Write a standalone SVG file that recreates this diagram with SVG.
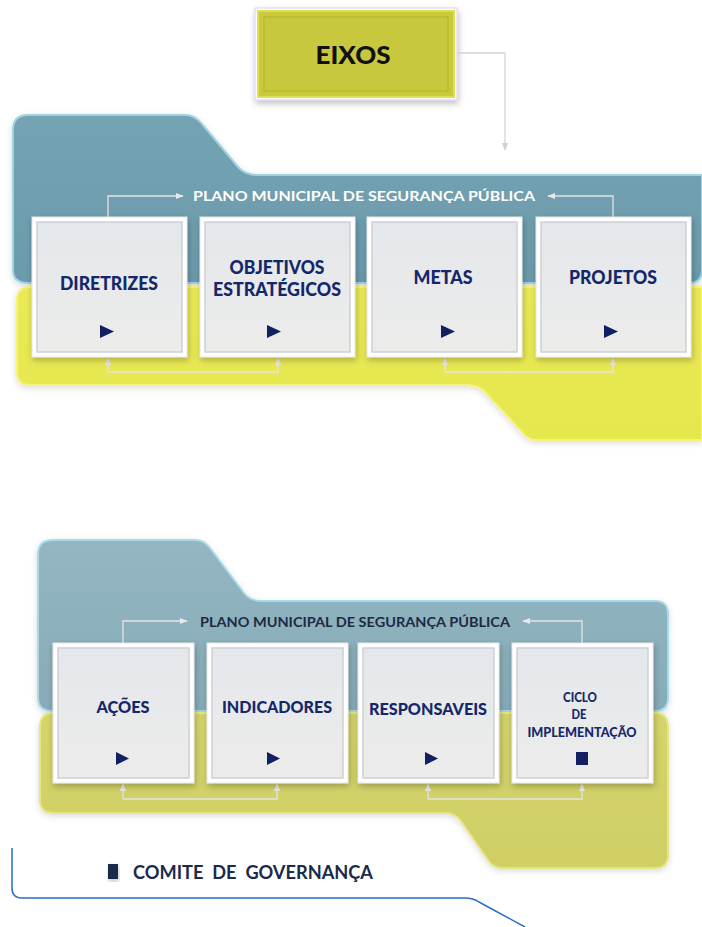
<svg xmlns="http://www.w3.org/2000/svg" width="702" height="927" viewBox="0 0 702 927">
<defs>
<style>
.lbl{font-family:Lato,"Liberation Sans",Arial,sans-serif;font-weight:900;fill:#14276a;text-anchor:middle}
.ttl{font-family:Lato,"Liberation Sans",Arial,sans-serif;font-weight:bold;font-size:14px}
.con{fill:none;stroke:#e4e4e4;stroke-width:1.3}
.con2{fill:none;stroke:#d4d4d4;stroke-width:1.3}
.outer{fill:#ffffff;stroke:#e6e6e6;stroke-width:1}
.inner{fill:url(#gBox);stroke:#cfd0d2;stroke-width:1.5}
.mk{fill:#102060}
</style>
<linearGradient id="gBox" x1="0" y1="0" x2="0" y2="1">
<stop offset="0" stop-color="#e4e7ec"/><stop offset="1" stop-color="#ececea"/>
</linearGradient>
<linearGradient id="gBlue1" x1="0" y1="0" x2="0" y2="1">
<stop offset="0" stop-color="#74a3b3"/><stop offset="1" stop-color="#6b9aab"/>
</linearGradient>
<linearGradient id="gYel1" x1="0" y1="0" x2="0" y2="1">
<stop offset="0" stop-color="#eaea56"/><stop offset="1" stop-color="#e6e64e"/>
</linearGradient>
<linearGradient id="gBlue2" x1="0" y1="0" x2="0" y2="1">
<stop offset="0" stop-color="#93b6c2"/><stop offset="1" stop-color="#87abb8"/>
</linearGradient>
<linearGradient id="gYel2" x1="0" y1="0" x2="0" y2="1">
<stop offset="0" stop-color="#d4d46a"/><stop offset="1" stop-color="#cfcf66"/>
</linearGradient>
<filter id="sh" x="-10%" y="-10%" width="130%" height="130%">
<feDropShadow dx="1" dy="3" stdDeviation="3" flood-color="#000" flood-opacity="0.25"/>
</filter>
<filter id="sh2" x="-10%" y="-10%" width="130%" height="130%">
<feDropShadow dx="0" dy="2" stdDeviation="3" flood-color="#000" flood-opacity="0.15"/>
</filter>
<marker id="ar" viewBox="0 0 10 10" refX="9" refY="5" markerWidth="6" markerHeight="6" orient="auto">
<path d="M0 1 L10 5 L0 9 Z" fill="#e8e8e8"/>
</marker>
<marker id="ar2" viewBox="0 0 10 10" refX="9" refY="5" markerWidth="6" markerHeight="6" orient="auto">
<path d="M0 1 L10 5 L0 9 Z" fill="#d0d0d0"/>
</marker>
</defs>
<rect width="702" height="927" fill="#ffffff"/>

<g id="panel-top">
<path d="M13 130 Q13 115 28 115 L185 115 Q195 115 202 124 L238 167 Q245 175 258 175 L702 175 L702 270 Q702 283 689 283 L28 283 Q13 283 13 270 Z" fill="url(#gBlue1)" stroke="#9fd3e0" stroke-width="2" filter="url(#sh2)"/>
<path d="M17 300 Q17 287 30 287 L702 287 L702 440 L537 440 Q528 440 522 432 L486 393 Q479 385 467 385 L30 385 Q17 385 17 372 Z" fill="url(#gYel1)" stroke="#f4f47a" stroke-width="2" filter="url(#sh2)"/>
</g>

<g id="panel-bottom">
<path d="M38 555 Q38 540 53 540 L195 540 Q204 540 210 548 L244 593 Q250 601 262 601 L655 601 Q668 601 668 614 L668 698 Q668 711 655 711 L53 711 Q38 711 38 698 Z" fill="url(#gBlue2)" stroke="#a6dce8" stroke-width="2" filter="url(#sh2)"/>
<path d="M40 727 Q40 713 54 713 L655 713 Q668 713 668 727 L668 855 Q668 868 655 868 L502 868 Q493 868 488 860 L461 821 Q455 813 445 813 L54 813 Q40 813 40 800 Z" fill="url(#gYel2)" stroke="#e6e680" stroke-width="2" filter="url(#sh2)"/>
</g>

<g id="frame-line">
<path d="M12 848 L12 888 Q12 898 22 898 L465 898 Q473 898 479 902 L525 927" fill="none" stroke="#2a6fc9" stroke-width="1.5"/>
</g>

<g id="eixos">
<rect x="255" y="8" width="202" height="92" fill="#ffffff" stroke="#d8d0f0" stroke-width="1" filter="url(#sh)"/>
<rect x="258" y="11" width="196" height="86" fill="#c9c93a" stroke="#dede55" stroke-width="2"/>
<rect x="264" y="17" width="184" height="74" fill="#c8c83f" stroke="#b5b52c" stroke-width="1"/>
<text x="353" y="64" font-family="Lato,'Liberation Sans',sans-serif" font-weight="900" font-size="24" text-anchor="middle" fill="#111111" textLength="75" lengthAdjust="spacingAndGlyphs">EIXOS</text>
</g>

<g id="connectors">
<path class="con2" d="M457 53 L505 53 L505 150" marker-end="url(#ar2)"/>
<path class="con" d="M108 217 L108 196 L183 196" marker-end="url(#ar)"/>
<path class="con" d="M613 217 L613 196 L548 196" marker-end="url(#ar)"/>
<path class="con" d="M108 372 L108 358" marker-end="url(#ar)"/>
<path class="con" d="M108 372 L278 372 L278 358" marker-end="url(#ar)"/>
<path class="con" d="M445 372 L445 358" marker-end="url(#ar)"/>
<path class="con" d="M445 372 L613 372 L613 358" marker-end="url(#ar)"/>
<path class="con" d="M123 643 L123 621 L187 621" marker-end="url(#ar)"/>
<path class="con" d="M582 643 L582 621 L523 621" marker-end="url(#ar)"/>
<path class="con" d="M123 799 L123 784" marker-end="url(#ar)"/>
<path class="con" d="M123 799 L277 799 L277 784" marker-end="url(#ar)"/>
<path class="con" d="M428 799 L428 784" marker-end="url(#ar)"/>
<path class="con" d="M428 799 L582 799 L582 784" marker-end="url(#ar)"/>
</g>

<g id="title-top">
<text class="ttl" x="193" y="201" fill="#ffffff" textLength="342" lengthAdjust="spacingAndGlyphs">PLANO MUNICIPAL DE SEGURANÇA PÚBLICA</text>
</g>
<g id="title-bottom">
<text class="ttl" x="200" y="627" fill="#1e2a44" font-size="15" font-weight="900" textLength="310" lengthAdjust="spacingAndGlyphs">PLANO MUNICIPAL DE SEGURANÇA PÚBLICA</text>
</g>

<g id="diretrizes">
<rect class="outer" x="32" y="217" width="155" height="140" filter="url(#sh)"/>
<rect class="inner" x="37" y="222" width="145" height="130"/>
<text class="lbl" x="109" y="290" font-size="18" textLength="98" lengthAdjust="spacingAndGlyphs">DIRETRIZES</text>
<path class="mk" d="M100 325 L114 331.5 L100 338 Z"/>
</g>
<g id="objetivos">
<rect class="outer" x="200" y="217" width="155" height="140" filter="url(#sh)"/>
<rect class="inner" x="205" y="222" width="145" height="130"/>
<text class="lbl" x="277" y="274" font-size="18" textLength="95" lengthAdjust="spacingAndGlyphs">OBJETIVOS</text>
<text class="lbl" x="277" y="296" font-size="18" textLength="128" lengthAdjust="spacingAndGlyphs">ESTRATÉGICOS</text>
<path class="mk" d="M267 325 L281 331.5 L267 338 Z"/>
</g>
<g id="metas">
<rect class="outer" x="367" y="217" width="155" height="140" filter="url(#sh)"/>
<rect class="inner" x="372" y="222" width="145" height="130"/>
<text class="lbl" x="443" y="284" font-size="18" textLength="59" lengthAdjust="spacingAndGlyphs">METAS</text>
<path class="mk" d="M441 325 L455 331.5 L441 338 Z"/>
</g>
<g id="projetos">
<rect class="outer" x="536" y="217" width="155" height="140" filter="url(#sh)"/>
<rect class="inner" x="541" y="222" width="145" height="130"/>
<text class="lbl" x="613" y="284" font-size="18" textLength="88" lengthAdjust="spacingAndGlyphs">PROJETOS</text>
<path class="mk" d="M604 325 L618 331.5 L604 338 Z"/>
</g>

<g id="acoes">
<rect class="outer" x="53" y="643" width="141" height="140" filter="url(#sh)"/>
<rect class="inner" x="58" y="648" width="131" height="130"/>
<text class="lbl" x="123" y="713" font-size="17" textLength="53" lengthAdjust="spacingAndGlyphs">AÇÕES</text>
<path class="mk" d="M116 752 L129 758.5 L116 765 Z"/>
</g>
<g id="indicadores">
<rect class="outer" x="207" y="643" width="141" height="140" filter="url(#sh)"/>
<rect class="inner" x="212" y="648" width="131" height="130"/>
<text class="lbl" x="277" y="713" font-size="17" textLength="110" lengthAdjust="spacingAndGlyphs">INDICADORES</text>
<path class="mk" d="M267 752 L280 758.5 L267 765 Z"/>
</g>
<g id="responsaveis">
<rect class="outer" x="358" y="643" width="141" height="140" filter="url(#sh)"/>
<rect class="inner" x="363" y="648" width="131" height="130"/>
<text class="lbl" x="428" y="715" font-size="17" textLength="118" lengthAdjust="spacingAndGlyphs">RESPONSAVEIS</text>
<path class="mk" d="M425 752 L438 758.5 L425 765 Z"/>
</g>
<g id="ciclo">
<rect class="outer" x="512" y="643" width="141" height="140" filter="url(#sh)"/>
<rect class="inner" x="517" y="648" width="131" height="130"/>
<text class="lbl" x="580" y="702" font-size="13" font-weight="bold" textLength="34" lengthAdjust="spacingAndGlyphs">CICLO</text>
<text class="lbl" x="579" y="719" font-size="13" font-weight="bold" textLength="15" lengthAdjust="spacingAndGlyphs">DE</text>
<text class="lbl" x="582" y="737" font-size="13" font-weight="bold" textLength="109" lengthAdjust="spacingAndGlyphs">IMPLEMENTAÇÃO</text>
<rect class="mk" x="576" y="752" width="12" height="13"/>
</g>

<g id="comite">
<rect x="108" y="864" width="10" height="15" fill="#1b2a4a" filter="url(#sh)"/>
<text x="133" y="879" font-family="Lato,'Liberation Sans',Arial,sans-serif" font-weight="bold" font-size="18" fill="#1b2a4a" textLength="240" lengthAdjust="spacingAndGlyphs" xml:space="preserve">COMITE  DE  GOVERNANÇA</text>
</g>
</svg>
